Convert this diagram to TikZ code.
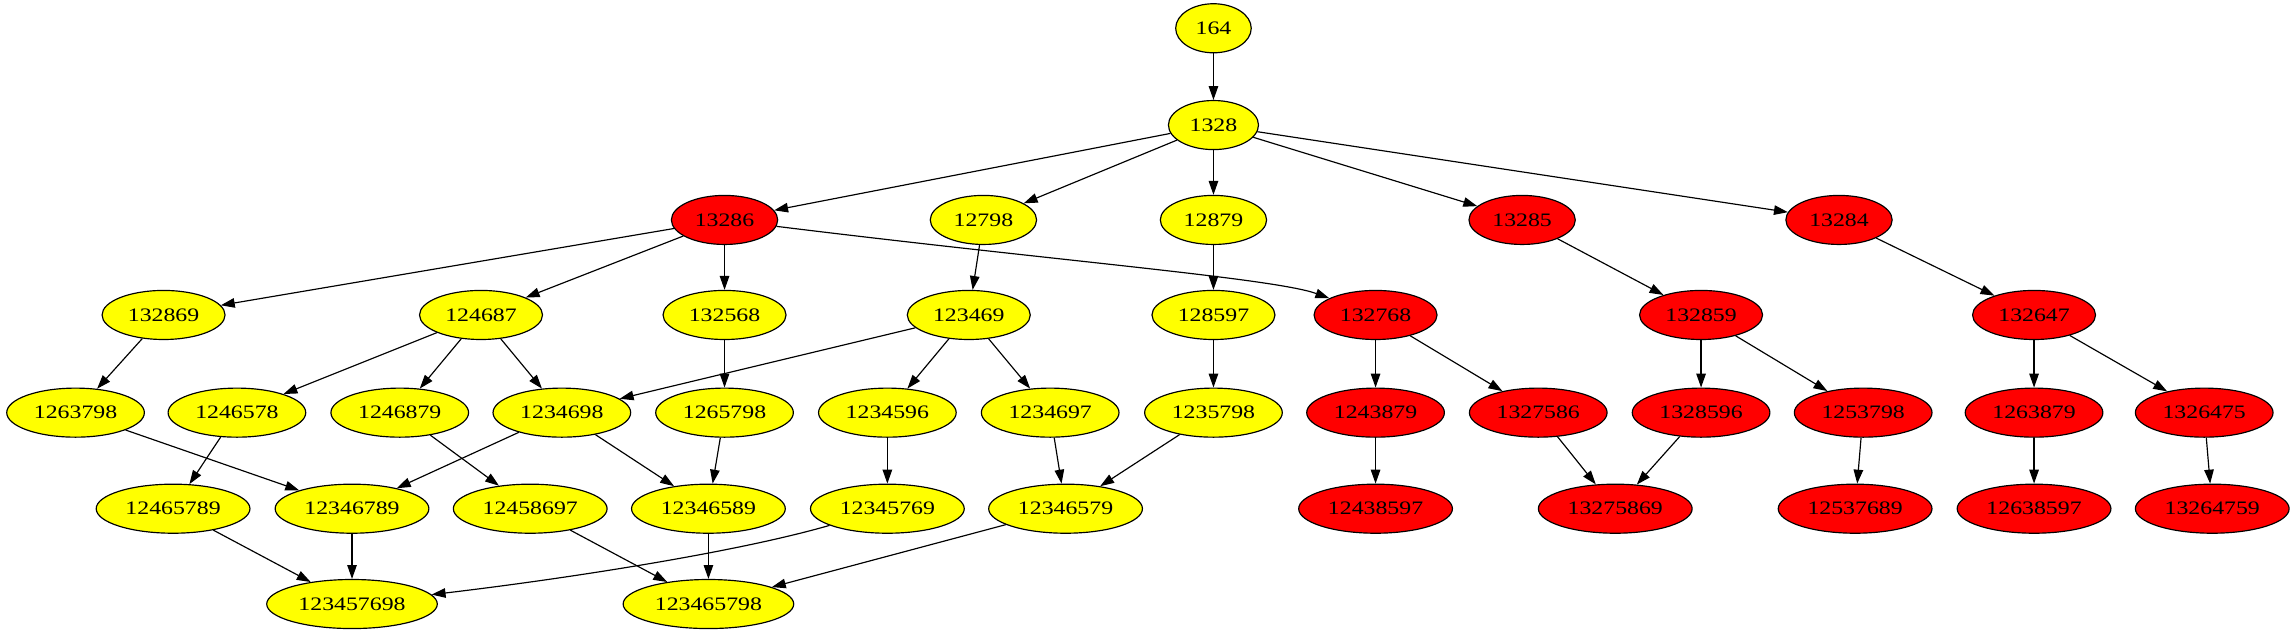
\documentclass[tikz,border=0pt]{standalone}
\usepackage{fontspec}
\setmainfont{Liberation Serif}[FakeStretch=1.25]
\usetikzlibrary{shapes.geometric,arrows.meta}
\definecolor{gvyellow}{RGB}{255,255,0}
\definecolor{gvred}{RGB}{255,0,0}
\begin{document}
\begin{tikzpicture}[x=1pt,y=-1pt,
  gv/.style={ellipse, draw=black, line width=0.8pt, minimum height=33.5pt, inner sep=0pt, font=\fontsize{13}{13}\selectfont},
  yel/.style={gv, fill=gvyellow},
  rd/.style={gv, fill=gvred},
  w3/.style={minimum width=51.6pt},
  w4/.style={minimum width=61.5pt},
  w5/.style={minimum width=72.6pt},
  w6/.style={minimum width=84pt},
  w7/.style={minimum width=94pt},
  w8/.style={minimum width=105pt},
  w9/.style={minimum width=116.5pt},
  e/.style={-{Triangle[length=9.5pt,width=6.5pt]}, line width=0.8pt}
]
\useasboundingbox (0,0) rectangle (1568,434);
% row 0
\node[yel,w3] (n164) at (828.7,19.3) {164};
% row 1
\node[yel,w4] (n1328) at (828.7,85.4) {1328};
% row 2
\node[rd,w5] (n13286) at (494.8,150.2) {13286};
\node[yel,w5] (n12798) at (671.6,150.2) {12798};
\node[yel,w5] (n12879) at (828.7,150.2) {12879};
\node[rd,w5] (n13285) at (1039.5,150.2) {13285};
\node[rd,w5] (n13284) at (1255.9,150.2) {13284};
% row 3
\node[yel,w6] (n132869) at (111.7,215.1) {132869};
\node[yel,w6] (n124687) at (328.5,215.1) {124687};
\node[yel,w6] (n132568) at (494.8,215.1) {132568};
\node[yel,w6] (n123469) at (661.6,215.1) {123469};
\node[yel,w6] (n128597) at (828.7,215.1) {128597};
\node[rd,w6] (n132768) at (939.4,215.1) {132768};
\node[rd,w6] (n132859) at (1161.7,215.1) {132859};
\node[rd,w6] (n132647) at (1389.1,215.1) {132647};
% row 4
\node[yel,w7] (n1263798) at (51.6,281.8) {1263798};
\node[yel,w7] (n1246578) at (161.8,281.8) {1246578};
\node[yel,w7] (n1246879) at (273,281.8) {1246879};
\node[yel,w7] (n1234698) at (383.7,281.8) {1234698};
\node[yel,w7] (n1265798) at (494.8,281.8) {1265798};
\node[yel,w7] (n1234596) at (606,281.8) {1234596};
\node[yel,w7] (n1234697) at (717.2,281.8) {1234697};
\node[yel,w7] (n1235798) at (828.7,281.8) {1235798};
\node[rd,w7] (n1243879) at (939.4,281.8) {1243879};
\node[rd,w7] (n1327586) at (1050.5,281.8) {1327586};
\node[rd,w7] (n1328596) at (1161.7,281.8) {1328596};
\node[rd,w7] (n1253798) at (1272.4,281.8) {1253798};
\node[rd,w7] (n1263879) at (1389.1,281.8) {1263879};
\node[rd,w7] (n1326475) at (1505.3,281.8) {1326475};
% row 5
\node[yel,w8] (n12465789) at (118.2,347.4) {12465789};
\node[yel,w8] (n12346789) at (240.4,347.4) {12346789};
\node[yel,w8] (n12458697) at (362.1,347.4) {12458697};
\node[yel,w8] (n12346589) at (483.8,347.4) {12346589};
\node[yel,w8] (n12345769) at (606,347.4) {12345769};
\node[yel,w8] (n12346579) at (727.7,347.4) {12346579};
\node[rd,w8] (n12438597) at (939.4,347.4) {12438597};
\node[rd,w8] (n13275869) at (1103.1,347.4) {13275869};
\node[rd,w8] (n12537689) at (1266.9,347.4) {12537689};
\node[rd,w8] (n12638597) at (1389.1,347.4) {12638597};
\node[rd,w8] (n13264759) at (1510.8,347.4) {13264759};
% row 6
\node[yel,w9] (n123457698) at (240.4,412.5) {123457698};
\node[yel,w9] (n123465798) at (483.8,412.5) {123465798};
% edges
\draw[e] (n164) -- (n1328);
\draw[e] (n1328) -- (n13286);
\draw[e] (n1328) -- (n12798);
\draw[e] (n1328) -- (n12879);
\draw[e] (n1328) -- (n13285);
\draw[e] (n1328) -- (n13284);
\draw[e] (n13286) -- (n132869);
\draw[e] (n13286) -- (n124687);
\draw[e] (n13286) -- (n132568);
\draw[e] (n13286) .. controls (720,178) and (870,190) .. (n132768);
\draw[e] (n12798) -- (n123469);
\draw[e] (n12879) -- (n128597);
\draw[e] (n13285) -- (n132859);
\draw[e] (n13284) -- (n132647);
\draw[e] (n132869) -- (n1263798);
\draw[e] (n124687) -- (n1246578);
\draw[e] (n124687) -- (n1246879);
\draw[e] (n124687) -- (n1234698);
\draw[e] (n132568) -- (n1265798);
\draw[e] (n123469) -- (n1234698);
\draw[e] (n123469) -- (n1234596);
\draw[e] (n123469) -- (n1234697);
\draw[e] (n128597) -- (n1235798);
\draw[e] (n132768) -- (n1243879);
\draw[e] (n132768) -- (n1327586);
\draw[e] (n132859) -- (n1328596);
\draw[e] (n132859) -- (n1253798);
\draw[e] (n132647) -- (n1263879);
\draw[e] (n132647) -- (n1326475);
\draw[e] (n1263798) -- (n12346789);
\draw[e] (n1246578) -- (n12465789);
\draw[e] (n1246879) -- (n12458697);
\draw[e] (n1234698) -- (n12346789);
\draw[e] (n1234698) -- (n12346589);
\draw[e] (n1265798) -- (n12346589);
\draw[e] (n1234596) -- (n12345769);
\draw[e] (n1234697) -- (n12346579);
\draw[e] (n1235798) -- (n12346579);
\draw[e] (n1243879) -- (n12438597);
\draw[e] (n1327586) -- (n13275869);
\draw[e] (n1328596) -- (n13275869);
\draw[e] (n1253798) -- (n12537689);
\draw[e] (n1263879) -- (n12638597);
\draw[e] (n1326475) -- (n13264759);
\draw[e] (n12465789) -- (n123457698);
\draw[e] (n12346789) -- (n123457698);
\draw[e] (n12345769) .. controls (500,378) and (380,396) .. (n123457698);
\draw[e] (n12458697) -- (n123465798);
\draw[e] (n12346589) -- (n123465798);
\draw[e] (n12346579) -- (n123465798);
\end{tikzpicture}
\end{document}
